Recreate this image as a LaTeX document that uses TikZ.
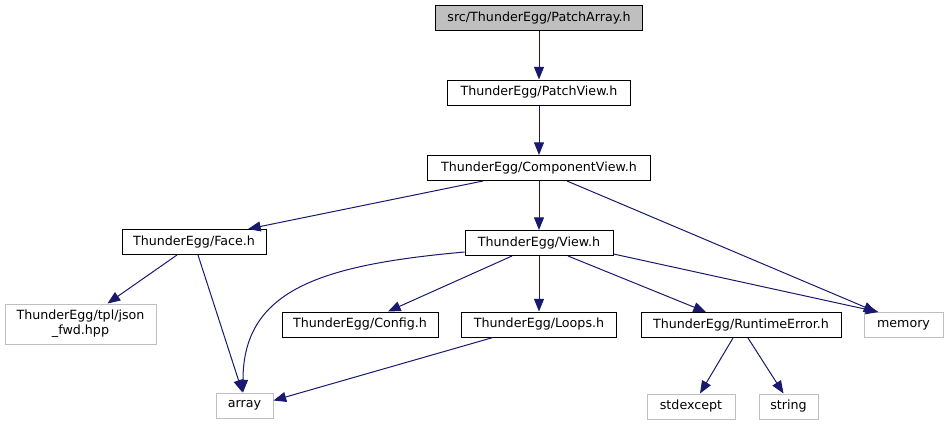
\documentclass[tikz,border=0pt]{standalone}
\usepackage{fontspec}
\setmainfont{DejaVu Sans}
\usetikzlibrary{arrows.meta,calc}
\definecolor{edgeblue}{HTML}{191970}
\definecolor{lightgrayborder}{HTML}{BFBFBF}
\begin{document}
\begin{tikzpicture}[x=0.75pt,y=-0.75pt,
  box/.style={draw=black,line width=0.75pt,fill=white,rectangle,inner sep=0pt,minimum height=18.75pt,font=\fontsize{9.5}{11}\selectfont,align=center},
  extbox/.style={box,draw=lightgrayborder},
  rootbox/.style={box,fill=lightgrayborder},
  edge/.style={draw=edgeblue,line width=0.75pt,-{Triangle[length=9.5pt,width=7.5pt]}}]
\useasboundingbox[fill=white] (0,0) rectangle (947,425);
\node[rootbox,minimum width=155.25pt] (pa) at (539,18) {src/ThunderEgg/PatchArray.h};
\node[box,minimum width=137.25pt] (pv) at (539,92.5) {ThunderEgg/PatchView.h};
\node[box,minimum width=167.25pt] (cv) at (539,168) {ThunderEgg/ComponentView.h};
\node[box,minimum width=108pt] (face) at (194,242) {ThunderEgg/Face.h};
\node[box,minimum width=111pt] (view) at (539,243) {ThunderEgg/View.h};
\node[extbox,minimum width=113.25pt,minimum height=30pt] (json) at (80.5,324) {ThunderEgg/tpl/json\\\_fwd.hpp};
\node[box,minimum width=117pt] (config) at (360,324.5) {ThunderEgg/Config.h};
\node[box,minimum width=116.25pt] (loops) at (539,324.5) {ThunderEgg/Loops.h};
\node[box,minimum width=150pt] (rte) at (741,325) {ThunderEgg/RuntimeError.h};
\node[extbox,minimum width=59.25pt] (memory) at (903.5,325) {memory};
\node[extbox,minimum width=66pt] (stdexcept) at (691,406.5) {stdexcept};
\node[extbox,minimum width=44.25pt] (string) at (788.5,406.5) {string};
\node[extbox,minimum width=42.75pt] (array) at (244.5,405.5) {array};

\draw[edge] (pa.south) -- (pv.north);
\draw[edge] (pv.south) -- (cv.north);
\draw[edge] ($(cv.south)+(-56,0)$) -- ($(face.north)+(54,0)$);
\draw[edge] (cv.south) -- (view.north);
\draw[edge] ($(cv.south)+(28,0)$) -- ($(memory.north)+(-27,0)$);
\draw[edge] ($(face.south)+(-17,0)$) -- ($(json.north)+(27,0)$);
\draw[edge] ($(face.south)+(4,0)$) -- ($(array.north)+(-2,0)$);
\draw[edge] ($(view.west)+(0,9)$) .. controls (320,265) and (243,290) .. ($(array.north)+(-1.5,0)$);
\draw[edge] ($(view.south)+(-27,0)$) -- ($(config.north)+(28,0)$);
\draw[edge] (view.south) -- (loops.north);
\draw[edge] ($(view.south)+(29,0)$) -- ($(rte.north)+(-35,0)$);
\draw[edge] ($(view.south east)+(0,-2)$) -- ($(memory.north)+(-25,0)$);
\draw[edge] ($(loops.south)+(-46,0)$) -- ($(array.east)+(0,-5)$);
\draw[edge] ($(rte.south)+(-8,0)$) -- ($(stdexcept.north)+(9,0)$);
\draw[edge] ($(rte.south)+(7,0)$) -- ($(string.north)+(-5,0)$);
\end{tikzpicture}
\end{document}
